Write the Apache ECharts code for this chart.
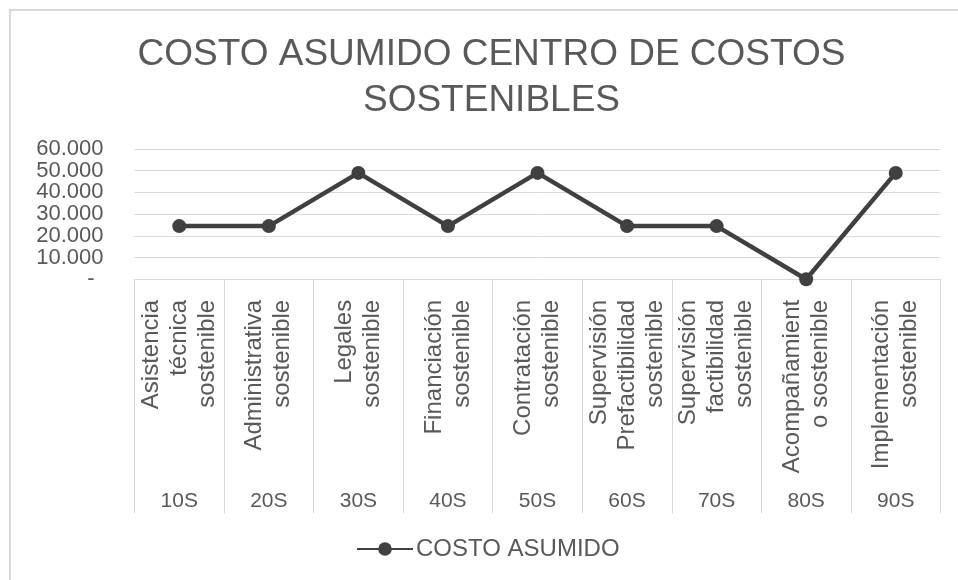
<!DOCTYPE html>
<html>
<head>
<meta charset="utf-8">
<script src="https://cdn.jsdelivr.net/npm/echarts@6/dist/echarts.min.js"></script>
<style>
  html, body { margin: 0; padding: 0; background: #ffffff; overflow: hidden; }
  #frame { position: absolute; left: 9px; top: 9px; width: 1200px; height: 900px;
           border-top: 2px solid #d9d9d9; border-left: 2px solid #d9d9d9; box-sizing: border-box; }
  #chart { position: absolute; left: 0; top: 0; width: 958px; height: 580px; }
</style>
</head>
<body>
<div id="frame"></div>
<div id="chart"></div>
<script>
// ---- data ----
const categories = [
  'Asistencia\ntécnica\nsostenible',
  'Administrativa\nsostenible',
  'Legales\nsostenible',
  'Financiación\nsostenible',
  'Contratación\nsostenible',
  'Supervisión\nPrefactibilidad\nsostenible',
  'Supervisión\nfactibilidad\nsostenible',
  'Acompañamient\no sostenible',
  'Implementación\nsostenible'
];
const codes = ['10S', '20S', '30S', '40S', '50S', '60S', '70S', '80S', '90S'];
const costoAsumido = [24500, 24500, 49000, 24500, 49000, 24500, 24500, 0, 49000];
const seriesName = 'COSTO ASUMIDO';
const titleText = 'COSTO ASUMIDO CENTRO DE COSTOS\nSOSTENIBLES';
const yMin = 0, yMax = 60000, yStep = 10000;

// ---- chart ----
const FONT = "'Liberation Sans', Arial, sans-serif";
const TXT = '#595959';
const GRID = '#d9d9d9';

function fmtThousands(v) {
  if (v === 0) return '{z|-}';
  return String(Math.round(v)).replace(/\B(?=(\d{3})+(?!\d))/g, '.');
}
function isEnd(v) { return v === yMin || v === yMax; }

const categoryItems = categories.map(function (c) {
  return { value: c, textStyle: { padding: [0, 0.5, 0, 0] } };
});

const yLabelBase = {
  margin: 31,
  hideOverlap: false,
  fontFamily: FONT,
  fontSize: 22,
  color: TXT,
  rich: { z: { fontFamily: FONT, fontSize: 22, color: TXT, padding: [0, 9, 0, 0] } }
};

const chart = echarts.init(document.getElementById('chart'), null, { renderer: 'canvas' });
chart.setOption({
  backgroundColor: 'transparent',
  animation: false,
  textStyle: { fontFamily: FONT },
  title: {
    text: titleText,
    left: 491.5,
    top: 32,
    padding: 0,
    textAlign: 'center',
    textStyle: { fontFamily: FONT, fontSize: 37, fontWeight: 'normal', color: TXT, lineHeight: 46 }
  },
  legend: {
    left: 356,
    top: 537,
    padding: 0,
    itemWidth: 56,
    itemHeight: 17,
    itemGap: 5,
    textStyle: { fontFamily: FONT, fontSize: 24, color: TXT, padding: [0, 0, 0, -2] },
    data: [seriesName]
  },
  grid: { left: 134.5, right: 17.5, top: 149, height: 130.3, containLabel: false, outerBoundsMode: 'none' },
  xAxis: [
    {
      type: 'category',
      data: categoryItems,
      boundaryGap: true,
      axisLine: { show: true, lineStyle: { color: GRID, width: 1 } },
      axisTick: { show: true, interval: 0, length: 234, lineStyle: { color: GRID, width: 1 } },
      splitLine: { show: false },
      axisLabel: {
        interval: 0,
        rotate: 90,
        align: 'center',
        verticalAlign: 'middle',
        margin: 20,
        hideOverlap: false,
        fontFamily: FONT,
        fontSize: 24,
        lineHeight: 28,
        color: TXT
      }
    },
    {
      type: 'category',
      data: codes,
      position: 'bottom',
      boundaryGap: true,
      axisLine: { show: false },
      axisTick: { show: false },
      splitLine: { show: false },
      axisLabel: {
        interval: 0,
        margin: 222,
        verticalAlign: 'middle',
        fontFamily: FONT,
        fontSize: 21,
        color: TXT
      }
    }
  ],
  yAxis: [
    {
      type: 'value',
      min: yMin,
      max: yMax,
      interval: yStep,
      axisLine: { show: false },
      axisTick: { show: false },
      splitLine: { show: true, lineStyle: { color: GRID, width: 1 } },
      axisLabel: Object.assign({}, yLabelBase, {
        formatter: function (v) { return isEnd(v) ? '' : fmtThousands(v); }
      })
    },
    {
      type: 'value',
      position: 'left',
      min: yMin,
      max: yMax,
      interval: yStep,
      axisLine: { show: false },
      axisTick: { show: false },
      splitLine: { show: false },
      axisLabel: Object.assign({}, yLabelBase, {
        showMinLabel: true,
        showMaxLabel: true,
        formatter: function (v) { return isEnd(v) ? fmtThousands(v) : ''; }
      })
    }
  ],
  series: [
    {
      name: seriesName,
      type: 'line',
      xAxisIndex: 0,
      yAxisIndex: 0,
      data: costoAsumido,
      symbol: 'circle',
      symbolSize: 14,
      showSymbol: true,
      lineStyle: { color: '#404040', width: 4.5 },
      itemStyle: { color: '#404040' }
    }
  ]
});
</script>
</body>
</html>
